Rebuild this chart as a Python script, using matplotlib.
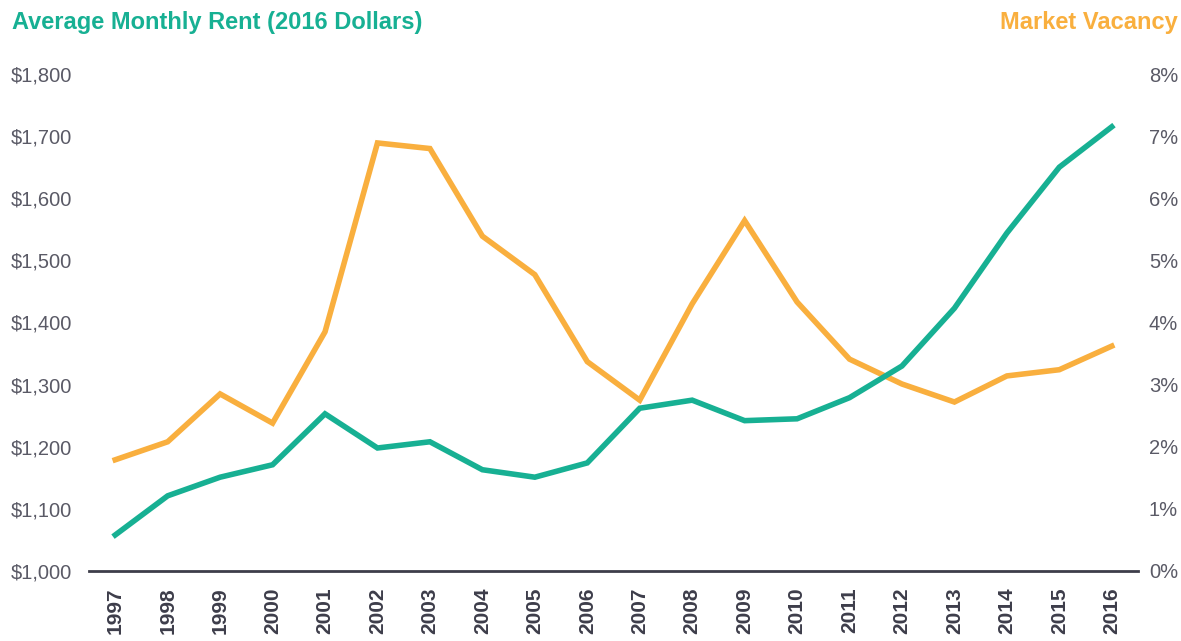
import matplotlib.pyplot as plt
from matplotlib.ticker import FuncFormatter

years = list(range(1997, 2017))
rent = [1058, 1121, 1151, 1171, 1253, 1198, 1208, 1163, 1151, 1174,
        1262, 1275, 1242, 1245, 1279, 1330, 1423, 1544, 1650, 1715]
vacancy = [1.79, 2.08, 2.85, 2.38, 3.85, 6.89, 6.80, 5.39, 4.77, 3.37,
           2.75, 4.30, 5.64, 4.33, 3.41, 3.01, 2.72, 3.14, 3.24, 3.62]

teal = '#17B093'
orange = '#F9AF3E'
grey = '#5a5a66'

plt.rcParams['font.family'] = ['Liberation Sans', 'DejaVu Sans']

fig = plt.figure(figsize=(11.81, 6.41), dpi=100)
ax = fig.add_axes([89 / 1181, 1 - 571 / 641, (1138 - 89) / 1181, (571 - 74) / 641])
ax2 = ax.twinx()

ax.plot(years, rent, color=teal, lw=4, solid_joinstyle='miter', zorder=3)
ax2.plot(years, vacancy, color=orange, lw=4, solid_joinstyle='miter', zorder=2)
ax.set_zorder(ax2.get_zorder() + 1)
ax.patch.set_visible(False)

ax.set_xlim(1996.5, 2016.5)
ax.set_ylim(1000, 1800)
ax2.set_ylim(0, 8)
ax.set_yticks(range(1000, 1801, 100))
ax2.set_yticks(range(0, 9))
ax.yaxis.set_major_formatter(FuncFormatter(lambda v, p: f'${v:,.0f}'))
ax2.yaxis.set_major_formatter(FuncFormatter(lambda v, p: f'{v:.0f}%'))
ax.set_xticks(years)
ax.set_xticklabels([str(y) for y in years], rotation=90, fontweight='bold',
                   fontsize=15, color='#3d3d4a', va='top')

for a in (ax, ax2):
    for s in a.spines.values():
        s.set_visible(False)
    a.tick_params(length=0)
ax.spines['bottom'].set_visible(True)
ax.spines['bottom'].set_color('#3d3d4a')
ax.spines['bottom'].set_linewidth(2)
ax.tick_params(axis='y', labelsize=14.5, labelcolor=grey, pad=12)
ax2.tick_params(axis='y', labelsize=14.5, labelcolor=grey, pad=40 * 0.72)
for lab in ax2.get_yticklabels():
    lab.set_horizontalalignment('right')
ax.tick_params(axis='x', pad=12)

fig.text(12 / 1181, 1 - 22 / 641, 'Average Monthly Rent (2016 Dollars)', color=teal,
         fontsize=17, fontweight='bold', ha='left', va='center')
fig.text(1178 / 1181, 1 - 22 / 641, 'Market Vacancy', color=orange,
         fontsize=17, fontweight='bold', ha='right', va='center')

fig.savefig('out.png', dpi=100)
